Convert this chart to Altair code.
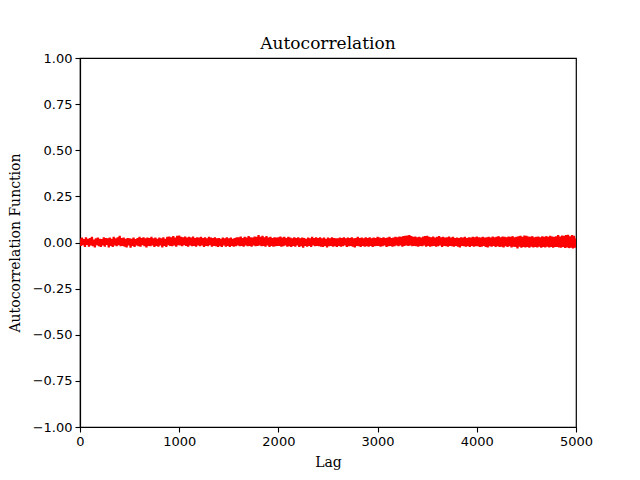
import altair as alt
import pandas as pd

# autocorrelation values, lags 0..5000 every 10
acf = [
    0.022, -0.018, 0.026, -0.014, 0.018, -0.024, 0.028, -0.012, 0.020, -0.022,
    0.024, -0.016, 0.030, -0.020, 0.016, -0.026, 0.022, -0.014, 0.026, -0.020,
    0.020, -0.024, 0.018, -0.016, 0.028, -0.022, 0.024, -0.012, 0.022, -0.026,
    0.026, -0.018, 0.020, -0.024, 0.030, -0.016, 0.022, -0.020, 0.028, -0.014,
    0.036, -0.020, 0.024, -0.018, 0.026, -0.022, 0.020, -0.026, 0.024, -0.016,
    0.022, -0.028, 0.020, -0.018, 0.026, -0.024, 0.018, -0.016, 0.024, -0.020,
    0.030, -0.022, 0.024, -0.014, 0.028, -0.020, 0.022, -0.026, 0.026, -0.018,
    0.024, -0.020, 0.030, -0.016, 0.022, -0.024, 0.026, -0.018, 0.020, -0.022,
    0.026, -0.016, 0.022, -0.026, 0.028, -0.018, 0.020, -0.024, 0.030, -0.014,
    0.032, -0.018, 0.028, -0.020, 0.034, -0.016, 0.026, -0.022, 0.036, -0.014,
    0.038, -0.016, 0.030, -0.020, 0.028, -0.014, 0.032, -0.018, 0.026, -0.022,
    0.030, -0.016, 0.026, -0.020, 0.032, -0.018, 0.024, -0.022, 0.028, -0.016,
    0.026, -0.020, 0.030, -0.016, 0.024, -0.024, 0.028, -0.018, 0.022, -0.020,
    0.030, -0.014, 0.026, -0.022, 0.024, -0.018, 0.028, -0.020, 0.022, -0.024,
    0.024, -0.020, 0.020, -0.024, 0.026, -0.016, 0.022, -0.022, 0.028, -0.018,
    0.022, -0.024, 0.026, -0.018, 0.020, -0.022, 0.024, -0.020, 0.028, -0.016,
    0.028, -0.020, 0.032, -0.018, 0.024, -0.022, 0.030, -0.016, 0.026, -0.020,
    0.034, -0.018, 0.028, -0.022, 0.026, -0.016, 0.032, -0.020, 0.030, -0.018,
    0.040, -0.016, 0.030, -0.020, 0.036, -0.018, 0.028, -0.022, 0.034, -0.016,
    0.026, -0.024, 0.030, -0.018, 0.024, -0.022, 0.028, -0.020, 0.026, -0.018,
    0.028, -0.018, 0.032, -0.022, 0.026, -0.020, 0.030, -0.016, 0.024, -0.022,
    0.030, -0.020, 0.026, -0.024, 0.022, -0.018, 0.028, -0.022, 0.024, -0.016,
    0.028, -0.024, 0.022, -0.020, 0.026, -0.028, 0.024, -0.018, 0.020, -0.022,
    0.026, -0.018, 0.022, -0.024, 0.030, -0.016, 0.024, -0.020, 0.028, -0.018,
    0.024, -0.020, 0.028, -0.022, 0.022, -0.024, 0.026, -0.018, 0.020, -0.026,
    0.026, -0.020, 0.022, -0.018, 0.028, -0.022, 0.024, -0.020, 0.022, -0.024,
    0.022, -0.018, 0.026, -0.022, 0.024, -0.020, 0.028, -0.016, 0.022, -0.024,
    0.026, -0.020, 0.024, -0.018, 0.028, -0.022, 0.022, -0.026, 0.024, -0.018,
    0.030, -0.020, 0.024, -0.024, 0.026, -0.018, 0.022, -0.022, 0.028, -0.020,
    0.024, -0.022, 0.028, -0.018, 0.022, -0.024, 0.026, -0.020, 0.024, -0.018,
    0.030, -0.018, 0.026, -0.022, 0.024, -0.020, 0.028, -0.016, 0.024, -0.024,
    0.026, -0.020, 0.030, -0.018, 0.024, -0.022, 0.026, -0.020, 0.030, -0.016,
    0.028, -0.020, 0.032, -0.016, 0.030, -0.022, 0.034, -0.018, 0.036, -0.016,
    0.038, -0.018, 0.040, -0.016, 0.034, -0.020, 0.030, -0.018, 0.032, -0.020,
    0.028, -0.022, 0.030, -0.018, 0.026, -0.020, 0.032, -0.016, 0.034, -0.022,
    0.036, -0.018, 0.030, -0.022, 0.028, -0.020, 0.032, -0.018, 0.026, -0.022,
    0.030, -0.020, 0.034, -0.016, 0.028, -0.024, 0.030, -0.018, 0.026, -0.020,
    0.028, -0.022, 0.032, -0.018, 0.026, -0.020, 0.030, -0.022, 0.024, -0.018,
    0.026, -0.022, 0.024, -0.026, 0.028, -0.018, 0.026, -0.020, 0.030, -0.022,
    0.024, -0.020, 0.028, -0.024, 0.026, -0.018, 0.030, -0.022, 0.028, -0.020,
    0.032, -0.020, 0.028, -0.024, 0.026, -0.022, 0.030, -0.018, 0.026, -0.024,
    0.028, -0.026, 0.030, -0.020, 0.026, -0.022, 0.032, -0.018, 0.028, -0.024,
    0.030, -0.020, 0.034, -0.024, 0.028, -0.022, 0.032, -0.026, 0.030, -0.020,
    0.028, -0.024, 0.032, -0.020, 0.030, -0.026, 0.034, -0.022, 0.028, -0.024,
    0.030, -0.032, 0.034, -0.022, 0.036, -0.028, 0.030, -0.024, 0.038, -0.026,
    0.036, -0.024, 0.032, -0.028, 0.030, -0.022, 0.034, -0.026, 0.028, -0.024,
    0.030, -0.026, 0.032, -0.022, 0.028, -0.028, 0.034, -0.024, 0.030, -0.026,
    0.034, -0.022, 0.030, -0.026, 0.036, -0.024, 0.032, -0.028, 0.030, -0.024,
    0.034, -0.024, 0.040, -0.026, 0.032, -0.028, 0.038, -0.024, 0.036, -0.030,
    0.040, -0.026, 0.042, -0.030, 0.034, -0.028, 0.040, -0.032, 0.036, -0.028,
    0.022,
]
lags = list(range(0, 5001, 10))

x_ticks = [0, 1000, 2000, 3000, 4000, 5000]
y_ticks = [-1.0, -0.75, -0.5, -0.25, 0.0, 0.25, 0.5, 0.75, 1.0]

df = pd.DataFrame({"lag": lags, "acf": acf})

chart = (
    alt.Chart(df, title=alt.TitleParams(
        "Autocorrelation", font="DejaVu Serif", fontSize=17,
        fontWeight="normal", color="black", anchor="middle", offset=-1))
    .mark_line(color="red", strokeWidth=2.2, clip=True)
    .encode(
        x=alt.X("lag:Q", title="Lag",
                scale=alt.Scale(domain=[0, 5000], nice=False, zero=False),
                axis=alt.Axis(values=x_ticks, format="d", grid=False,
                              labelFlush=False)),
        y=alt.Y("acf:Q", title="Autocorrelation Function",
                scale=alt.Scale(domain=[-1, 1], nice=False),
                axis=alt.Axis(values=y_ticks, format=".2f", grid=False,
                              labelFlush=False)),
    )
    .properties(width=496, height=369,
                autosize=alt.AutoSizeParams(type="none"),
                padding={"left": 72, "top": 50, "right": 40, "bottom": 44})
    .configure_view(stroke="black", strokeWidth=1.2)
    .configure_axis(
        domainColor="black", domainWidth=1.2,
        tickColor="black", tickSize=5, tickWidth=1.1,
        labelFont="DejaVu Sans", labelFontSize=13, labelColor="black",
        labelPadding=3,
        titleFont="DejaVu Serif", titleFontSize=14, titleFontWeight="normal",
        titleColor="black",
    )
    .configure_axisX(titlePadding=7)
    .configure_axisY(titlePadding=10)
)

chart.save("out.html", embed_options={"renderer": "svg", "actions": False})
